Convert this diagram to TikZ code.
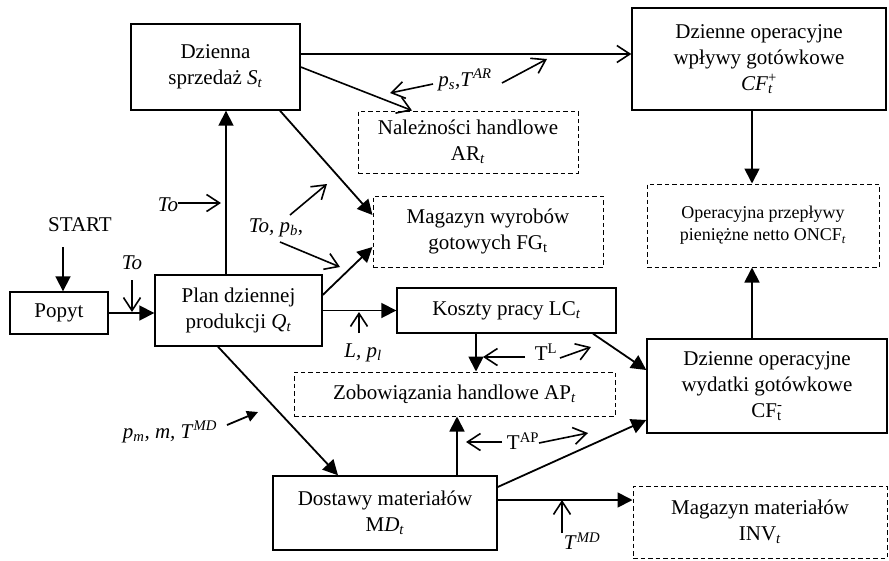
\documentclass[tikz,border=0pt]{standalone}
\usepackage{fontspec}
\setmainfont{Liberation Serif}
\usetikzlibrary{arrows.meta}
\newcommand{\ssb}[1]{\textsubscript{#1}}
\newcommand{\ssp}[1]{\textsuperscript{#1}}
\newcommand{\ssbp}[2]{\rlap{\textsubscript{#1}}\textsuperscript{#2}}
\begin{document}
\begin{tikzpicture}[x=1pt,y=-1pt,
  txt/.style={font=\fontsize{21}{26}\selectfont},
  box/.style={txt, draw, line width=1.4pt, align=center, inner sep=0pt},
  dbox/.style={txt, draw, dash pattern=on 4.5pt off 3pt, line width=1pt, align=center, inner sep=0pt},
  lbl/.style={txt, inner sep=0pt},
  fl/.style={line width=1.8pt, -{Triangle[length=15pt,width=15pt]}},
  sfl/.style={line width=1.8pt, -{Triangle[length=11pt,width=11pt]}},
  op/.style={line width=1.6pt, -{Straight Barb[length=13pt,width=17pt]}},
]
\useasboundingbox (0,0) rectangle (889,560);

% boxes
\node[box, minimum width=169, minimum height=86] (sprz) at (215.5,67) {Dzienna\\sprzedaż \textit{S}\ssb{\textit{t}}};
\node[box, minimum width=254, minimum height=102] (cfp) at (759,59) {Dzienne operacyjne\\wpływy gotówkowe\\\textit{CF}\ssbp{\textit{t}}{+}};
\node[dbox, minimum width=220, minimum height=62] (nal) at (468,142) {Należności handlowe\\AR\ssb{\textit{t}}};
\node[dbox, minimum width=230, minimum height=71] (mag) at (488,231.5) {Magazyn wyrobów\\gotowych FG\ssb{t}};
\node[dbox, minimum width=232, minimum height=83, font=\fontsize{18}{22}\selectfont] (oncf) at (763,225.5) {Operacyjna przepływy\\pieniężne netto ONCF\ssb{\textit{t}}};
\node[box, minimum width=98, minimum height=42] (popyt) at (59,313) {Popyt};
\node[box, minimum width=167, minimum height=71] (plan) at (238.5,310.5) {Plan dziennej\\produkcji \textit{Q}\ssb{\textit{t}}};
\node[box, minimum width=219, minimum height=45] (kos) at (506.5,310.5) {Koszty pracy LC\ssb{\textit{t}}};
\node[dbox, minimum width=321, minimum height=44] (zob) at (454.5,394) {Zobowiązania handlowe AP\ssb{\textit{t}}};
\node[box, minimum width=240, minimum height=94] (cfm) at (767,386) {Dzienne operacyjne\\wydatki gotówkowe\\CF\ssbp{t}{-}};
\node[box, minimum width=224, minimum height=74] (dos) at (385,513) {Dostawy materiałów\\M\textit{D}\ssb{\textit{t}}};
\node[dbox, minimum width=254, minimum height=72] (mm) at (760,522) {Magazyn materiałów\\INV\ssb{\textit{t}}};

% start
\node[lbl] (start) at (80,225) {START};
\coordinate (s0) at (63,247);
\draw[fl] (s0) -- (s0 |- popyt.north);

% helper points
\coordinate (sprzE) at ([yshift=13pt]sprz.east);
\coordinate (dosE) at ([yshift=13pt]dos.east);
\coordinate (planN) at ([xshift=-12.5pt]plan.north);
\coordinate (kosS) at ([xshift=-30.5pt]kos.south);
\coordinate (dosN) at ([xshift=72pt]dos.north);
\coordinate (cfpS) at ([xshift=-7pt]cfp.south);
\coordinate (cfmN) at ([xshift=-15pt]cfm.north);

% main flows
\draw[fl] (popyt.east) -- (plan.west |- popyt.east);
\draw[fl] (planN) -- (planN |- sprz.south);
\draw[op] (sprzE) -- (cfp.west |- sprzE);
\draw[op] (sprz.east) -- ([xshift=-56pt]nal.north);
\draw[fl] ([xshift=64.5pt]sprz.south) -- ([yshift=16.5pt]mag.west);
\draw[fl] ([yshift=15.5pt]plan.east) -- ([yshift=-15.5pt]mag.west);
\draw[fl] (plan.east) -- (kos.west);
\draw[fl] (kosS) -- (kosS |- zob.north);
\draw[fl] ([xshift=86.5pt]kos.south) -- ([yshift=16pt]cfm.west);
\draw[fl] ([xshift=-20.5pt]plan.south) -- ([xshift=-47pt]dos.north);
\draw[fl] (dosN) -- (dosN |- zob.south);
\draw[fl] ([yshift=26pt]dos.east) -- ([yshift=-34pt]cfm.west);
\draw[fl] (dosE) -- (mm.west |- dosE);
\draw[fl] (cfpS) -- (cfpS |- oncf.north);
\draw[fl] (cfmN) -- (cfmN |- oncf.south);

% parameter labels and arrows
\node[lbl] (to1) at (132,263) {\textit{To}};
\coordinate (to1a) at (132,280); \coordinate (to1b) at (132,312);
\draw[op] (to1a) -- (to1b);

\node[lbl] (to2) at (168,205) {\textit{To}};
\coordinate (to2b) at (221,203);
\draw[op] (to2.east |- to2b) -- (to2b);

\node[lbl] (tpb) at (276,228) {\textit{To, p}\ssb{\textit{b}},};
\coordinate (tpb1a) at (290,215); \coordinate (tpb1b) at (327,184);
\coordinate (tpb2a) at (280,242); \coordinate (tpb2b) at (340,267);
\draw[op] (tpb1a) -- (tpb1b);
\draw[op] (tpb2a) -- (tpb2b);

\node[lbl] (psar) at (465,80) {\textit{p}\ssb{\textit{s}},\textit{T}\ssp{\textit{AR}}};
\coordinate (ps1a) at (433,84); \coordinate (ps1b) at (390,93);
\coordinate (ps2a) at (502,83); \coordinate (ps2b) at (547,59);
\draw[op] (ps1a) -- (ps1b);
\draw[op] (ps2a) -- (ps2b);

\node[lbl] (lpl) at (363,353) {\textit{L, p}\ssb{\textit{l}}};
\coordinate (lpa) at (359,333); \coordinate (lpb) at (359,312);
\draw[op] (lpa) -- (lpb);

\node[lbl] (tl) at (546,352) {T\ssp{L}};
\coordinate (tl1a) at (525,357); \coordinate (tl1b) at (483,357);
\coordinate (tl2a) at (560,358); \coordinate (tl2b) at (591,347);
\draw[op] (tl1a) -- (tl1b);
\draw[op] (tl2a) -- (tl2b);

\node[lbl] (pmm) at (170,432) {\textit{p}\ssb{\textit{m}}\textit{, m, T}\ssp{\textit{MD}}};
\coordinate (pma) at (227,425); \coordinate (pmb) at (258,412);
\draw[sfl] (pma) -- (pmb);

\node[lbl] (tap) at (523,441) {T\ssp{AP}};
\coordinate (tap1a) at (502,442); \coordinate (tap1b) at (466,442);
\coordinate (tap2a) at (539,443); \coordinate (tap2b) at (588,433);
\draw[op] (tap1a) -- (tap1b);
\draw[op] (tap2a) -- (tap2b);

\node[lbl] (tmd) at (582,541) {\textit{T}\ssp{\textit{MD}}};
\coordinate (tmda) at (562,533); \coordinate (tmdb) at (562,500);
\draw[op] (tmda) -- (tmdb);
\end{tikzpicture}
\end{document}
